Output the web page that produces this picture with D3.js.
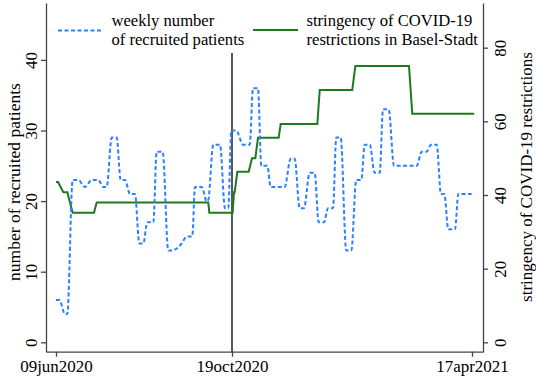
<!DOCTYPE html>
<html><head><meta charset="utf-8">
<script src="https://cdn.jsdelivr.net/npm/d3@7"></script>
</head>
<body style="margin:0;background:#fff"><svg id="chart" width="536" height="378"></svg>
<script>
// ---- data ----
const startDate = "09jun2020";
const xTickLabels = ["09jun2020", "19oct2020", "17apr2021"];
const markerDate = "19oct2020";
const leftTicks = [0, 10, 20, 30, 40];
const rightTicks = [0, 20, 40, 60, 80];
const legendLabels = [["weekly number", "of recruited patients"], ["stringency of COVID-19", "restrictions in Basel-Stadt"]];
const axisTitleLeft = "number of recruited patients";
const axisTitleRight = "stringency of COVID-19 restrictions";

// days since 09jun2020 and weekly number of recruited patients
const recruitDays = [0,2.5,6.75,8.5,12.5,16.7,21.75,26.8,31.7,35.5,38,41.8,45.5,48.5,51.75,55.5,59.25,62.5,65.5,68.5,73,75.5,80,84.2,86.8,94.3,98,102.2,104.25,109.3,113,114,118,123,126.75,129.2,131.5,135.2,140.25,145.3,147.75,151.5,154,158.5,161,171.5,176,179,182.75,186,190.25,194,197,201,204,207.75,210.2,213.5,217.7,221.5,225.2,229,231.5,235.3,239,242.8,245.25,249.5,253.5,270.5,274.25,278,281.25,285.5,288.75,291.25,294.25,299.25,301.75,311.75];
const recruitValues = [6,6,4,4,23,23,22,23,23,22,22,29,29,23,23,21,21,14,14,17,17,27,27,13,13,14,15,15,22,22,20,20,28,28,19,19,30,30,28,28,36,36,25,25,22,22,26,26,19,19,24,24,17,17,19,19,29,29,13,13,23,23,28,28,24,24,33,33,25,25,27,27,28,28,21,21,16,16,21,21];

// days since 09jun2020 and stringency index
const stringencyDays = [0,1.5,5.5,8.5,12.5,28.5,30.5,114.2,115,132.5,133.5,134,136,144.5,147,149.5,151.5,167,168.5,196,197.8,222.2,224.5,264.75,267.2,313.7];
const stringencyValues = [43.52,43.52,40.74,40.74,35.19,35.19,37.96,37.96,35.19,35.19,40.74,40.74,46.3,46.3,50,50,55.56,55.56,59.26,59.26,68.52,68.52,75,75,62.04,62.04];

// ---- setup ----
const FONT = '"Liberation Serif"';
const svg = d3.select("#chart");
const parse = d3.utcParse("%d%b%Y");
const cap = s => s.replace(/([a-z]{3})(\d{4})$/, (m, a, b) => a[0].toUpperCase() + a.slice(1) + b);
const pDate = s => parse(cap(s));
const t0 = pDate(startDate);
const DAY = 864e5;
const dayToDate = d => new Date(+t0 + d * DAY);
const tEnd = pDate(xTickLabels[2]);

const x = d3.scaleUtc()
  .domain([new Date(+t0 - 7.5 * DAY), new Date(+tEnd + 8.25 * DAY)])
  .range([46, 483]);
const yL = d3.scaleLinear().domain([-1.33, 48.06]).range([351.7, 3]);
const yR = d3.scaleLinear().domain([-2.55, 92.13]).range([351.7, 3]);

const axisColor = "#444";
const blue = "#2a80ff";
const green = "#1e7a1e";

// ---- axes ----
const gx = svg.append("g").attr("transform", "translate(0,351.7)")
  .call(d3.axisBottom(x).tickValues(xTickLabels.map(pDate)).tickSize(5).tickSizeOuter(0)
    .tickFormat((d, i) => xTickLabels[i]));
gx.select(".domain").attr("stroke", axisColor).attr("stroke-width", 1.3);
gx.selectAll(".tick line").attr("stroke", axisColor).attr("stroke-width", 1.3);
gx.selectAll(".tick text").attr("font-size", 17).attr("fill", "#000").attr("y", 8).attr("dy", "0.71em")
  .style("font-family", FONT);

const gl = svg.append("g").attr("transform", "translate(46,0)")
  .call(d3.axisLeft(yL).tickValues(leftTicks).tickSize(5).tickSizeOuter(0));
gl.select(".domain").attr("stroke", axisColor).attr("stroke-width", 1.3);
gl.selectAll(".tick line").attr("stroke", axisColor).attr("stroke-width", 1.3);
gl.selectAll(".tick text").attr("font-size", 17).attr("fill", "#000")
  .attr("x", null).attr("dy", null)
  .attr("transform", "translate(-9.5,0) rotate(-90)")
  .attr("text-anchor", "middle")
  .style("font-family", FONT);

const gr = svg.append("g").attr("transform", "translate(483,0)")
  .call(d3.axisRight(yR).tickValues(rightTicks).tickSize(5).tickSizeOuter(0));
gr.select(".domain").attr("stroke", axisColor).attr("stroke-width", 1.3);
gr.selectAll(".tick line").attr("stroke", axisColor).attr("stroke-width", 1.3);
gr.selectAll(".tick text").attr("font-size", 17).attr("fill", "#000")
  .attr("x", null).attr("dy", null)
  .attr("transform", "translate(23,0) rotate(-90)")
  .attr("text-anchor", "middle")
  .style("font-family", FONT);

// axis titles
svg.append("text").attr("transform", "translate(19.5,182) rotate(-90)")
  .style("font-family", FONT)
  .attr("text-anchor", "middle").attr("font-size", 17.5).text(axisTitleLeft);
svg.append("text").attr("transform", "translate(532,177) rotate(-90)")
  .style("font-family", FONT)
  .attr("text-anchor", "middle").attr("font-size", 17).text(axisTitleRight);

// vertical marker line
svg.append("line")
  .attr("x1", x(pDate(markerDate))).attr("x2", x(pDate(markerDate)))
  .attr("y1", 53).attr("y2", 351.7)
  .attr("stroke", "#111").attr("stroke-width", 1.4);

// ---- series ----
const recruit = recruitDays.map((d, i) => [dayToDate(d), recruitValues[i]]);
const string = stringencyDays.map((d, i) => [dayToDate(d), stringencyValues[i]]);

svg.append("path").datum(string)
  .attr("d", d3.line().x(d => x(d[0])).y(d => yR(d[1])))
  .attr("fill", "none").attr("stroke", green).attr("stroke-width", 2);

svg.append("path").datum(recruit)
  .attr("d", d3.line().x(d => x(d[0])).y(d => yL(d[1])).curve(d3.curveMonotoneX))
  .attr("fill", "none").attr("stroke", blue).attr("stroke-width", 2)
  .attr("stroke-dasharray", "4,2.5");

// ---- legend ----
const lg = svg.append("g");
lg.append("line").attr("x1", 58).attr("x2", 103).attr("y1", 30.5).attr("y2", 30.5)
  .attr("stroke", blue).attr("stroke-width", 2).attr("stroke-dasharray", "4,2.5");
lg.append("line").attr("x1", 253).attr("x2", 298).attr("y1", 30).attr("y2", 30)
  .attr("stroke", green).attr("stroke-width", 2);
const lx = [111.5, 306.5];
legendLabels.forEach((lines, i) => {
  const t = lg.append("text").style("font-family", FONT).attr("font-size", 16.6).attr("y", 26.3);
  lines.forEach((s, j) => {
    t.append("tspan").attr("x", lx[i]).attr("y", 26.3 + j * 18.4).text(s);
  });
});
</script></body></html>
